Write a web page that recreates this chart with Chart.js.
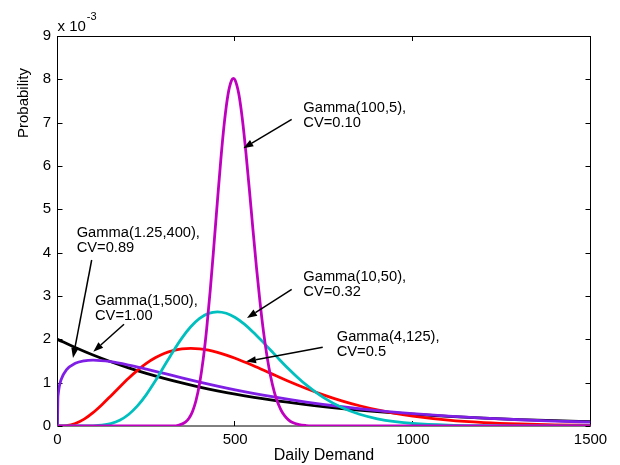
<!DOCTYPE html>
<html>
<head>
<meta charset="utf-8">
<script src="https://cdn.jsdelivr.net/npm/chart.js@4/dist/chart.umd.min.js"></script>
<style>
  html, body { margin: 0; padding: 0; background: #ffffff; }
  #wrap { width: 620px; height: 465px; }
</style>
</head>
<body>
<div id="wrap"><canvas id="c" width="620" height="465"></canvas></div>
<script>
// ---- Data (probability values in units of 10^-3) ----
const demandExp = [0,50,100,150,200,250,300,350,400,450,500,600,700,800,900,1000,1100,1200,1300,1400,1500];
const probGamma1_500 = [2.000,1.810,1.637,1.482,1.341,1.213,1.098,0.993,0.899,0.813,0.736,0.602,0.493,0.404,0.331,0.271,0.222,0.181,0.149,0.122,0.100];

const demandG125 = [0,1,2,5,10,25,50,75,100,150,200,250,300,350,400,450,500,600,700,800,900,1000,1100,1200,1300,1400,1500];
const probGamma125_400 = [0,0.615,0.730,0.911,1.069,1.295,1.447,1.505,1.519,1.483,1.407,1.313,1.213,1.112,1.015,0.922,0.836,0.681,0.551,0.444,0.356,0.285,0.227,0.181,0.144,0.114,0.090];

const demandG4 = [0,25,50,75,100,125,150,175,200,225,250,275,300,325,350,375,400,425,450,475,500,550,600,650,700,750,800,850,900,950,1000,1100,1200,1300,1400,1500];
const probGamma4_125 = [0,0.009,0.057,0.158,0.307,0.491,0.694,0.902,1.103,1.285,1.444,1.573,1.672,1.741,1.780,1.792,1.781,1.749,1.700,1.637,1.563,1.395,1.214,1.034,0.866,0.714,0.581,0.467,0.372,0.293,0.229,0.137,0.080,0.046,0.026,0.014];

const demandG10 = [0,50,100,125,150,175,200,225,250,275,300,325,350,375,400,425,450,475,500,525,550,575,600,625,650,675,700,750,800,850,900,950,1000,1100,1200,1300,1400,1500];
const probGamma10_50 = [0,0.000,0.004,0.017,0.054,0.131,0.265,0.463,0.725,1.037,1.377,1.716,2.028,2.289,2.482,2.598,2.635,2.601,2.503,2.355,2.171,1.965,1.748,1.531,1.321,1.125,0.947,0.648,0.426,0.271,0.167,0.100,0.058,0.019,0.006,0.002,0.000,0.000];

const demandG100 = [0,300,320,340,360,370,380,390,400,410,420,430,440,450,460,470,480,490,495,500,510,520,530,540,550,560,570,580,590,600,610,620,630,640,650,660,680,700,720,760,1500];
const probGamma100_5 = [0,0.000,0.002,0.017,0.087,0.177,0.335,0.594,0.986,1.538,2.261,3.146,4.145,5.186,6.184,7.035,7.658,7.980,8.020,7.980,7.671,7.098,6.332,5.452,4.538,3.656,2.854,2.161,1.589,1.135,0.789,0.534,0.352,0.227,0.142,0.087,0.031,0.010,0.003,0.000,0];

const xTickValues = [0, 500, 1000, 1500];
const xTickLabels = ['0', '500', '1000', '1500'];
const yTickValues = [0,1,2,3,4,5,6,7,8,9];
const yTickLabels = ['0','1','2','3','4','5','6','7','8','9'];
const xAxisTitle = 'Daily Demand';
const yAxisTitle = 'Probability';
const yExponentBase = 'x 10';
const yExponent = '-3';

// Annotation labels: [line1, line2], anchor (data units)
const labelLines = [
  ['Gamma(100,5),', 'CV=0.10'],
  ['Gamma(10,50),', 'CV=0.32'],
  ['Gamma(4,125),', 'CV=0.5'],
  ['Gamma(1.25,400),', 'CV=0.89'],
  ['Gamma(1,500),', 'CV=1.00']
];
const labelX = [691.7, 691.7, 785.8, 54.0, 105.5];
const labelY = [7.242, 3.341, 1.972, 4.355, 2.781];
// Arrows: from (start) to (tip), data units
const arrowStartX = [659.1, 659.1, 746.4, 96.2, 187.2];
const arrowStartY = [7.078, 3.155, 1.816, 3.831, 2.347];
const arrowTipX = [522.9, 533.3, 530.5, 43.6, 100.8];
const arrowTipY = [6.408, 2.492, 1.488, 1.569, 1.715];

const FONT = "'Liberation Sans', Arial, Helvetica, sans-serif";

function pts(xs, ys) { return xs.map((x, i) => ({ x: x, y: ys[i] })); }

const frameAndNotes = {
  id: 'frameAndNotes',
  beforeDatasetsDraw(chart) {
    const { ctx, chartArea: a, scales } = chart;
    ctx.save();
    ctx.strokeStyle = '#000';
    ctx.lineWidth = 1;
    ctx.beginPath();
    ctx.rect(Math.round(a.left) - 0.5, Math.round(a.top) + 0.5, Math.round(a.right - a.left), Math.round(a.bottom - a.top) - 0.5);
    ctx.stroke();
    ctx.beginPath();
    yTickValues.forEach(v => {
      const y = Math.round(scales.y.getPixelForValue(v)) + 0.5;
      ctx.moveTo(a.left, y); ctx.lineTo(a.left + 5, y);
      ctx.moveTo(a.right, y); ctx.lineTo(a.right - 5, y);
    });
    xTickValues.forEach(v => {
      const x = Math.round(scales.x.getPixelForValue(v)) - 0.5;
      ctx.moveTo(x, a.bottom); ctx.lineTo(x, a.bottom - 5);
      ctx.moveTo(x, a.top); ctx.lineTo(x, a.top + 5);
    });
    ctx.stroke();
    ctx.restore();
  },
  afterDatasetsDraw(chart) {
    const { ctx, chartArea: a, scales } = chart;
    const sx = scales.x, sy = scales.y;
    ctx.save();
    // arrows
    ctx.strokeStyle = '#000';
    ctx.fillStyle = '#000';
    ctx.lineWidth = 1.5;
    for (let i = 0; i < arrowStartX.length; i++) {
      const x0 = sx.getPixelForValue(arrowStartX[i]), y0 = sy.getPixelForValue(arrowStartY[i]);
      const x1 = sx.getPixelForValue(arrowTipX[i]), y1 = sy.getPixelForValue(arrowTipY[i]);
      const ang = Math.atan2(y1 - y0, x1 - x0);
      const L = 10, W = 3.6;
      const bx = x1 - L * Math.cos(ang), by = y1 - L * Math.sin(ang);
      ctx.beginPath();
      ctx.moveTo(x0, y0); ctx.lineTo(bx, by);
      ctx.stroke();
      ctx.beginPath();
      ctx.moveTo(x1, y1);
      ctx.lineTo(bx + W * Math.sin(ang), by - W * Math.cos(ang));
      ctx.lineTo(bx - W * Math.sin(ang), by + W * Math.cos(ang));
      ctx.closePath();
      ctx.fill();
    }
    // labels
    ctx.font = '14.7px ' + FONT;
    ctx.textAlign = 'left';
    ctx.textBaseline = 'alphabetic';
    for (let i = 0; i < labelLines.length; i++) {
      const x = sx.getPixelForValue(labelX[i]), y = sy.getPixelForValue(labelY[i]);
      labelLines[i].forEach((t, j) => ctx.fillText(t, x, y + j * 15));
    }
    // y axis title (rotated)
    ctx.save();
    ctx.translate(28, 103);
    ctx.rotate(-Math.PI / 2);
    ctx.font = '15px ' + FONT;
    ctx.textAlign = 'center';
    ctx.textBaseline = 'alphabetic';
    ctx.fillText(yAxisTitle, 0, 0);
    ctx.restore();
    // exponent
    ctx.font = '15px ' + FONT;
    ctx.textAlign = 'left';
    ctx.fillText(yExponentBase, a.left, 31);
    const w = ctx.measureText(yExponentBase).width;
    ctx.font = '11px ' + FONT;
    ctx.fillText(yExponent, a.left + w + 1, 20);
    ctx.restore();
  }
};

const common = { pointRadius: 0, borderWidth: 2.8, fill: false, cubicInterpolationMode: 'monotone' };

new Chart(document.getElementById('c'), {
  type: 'line',
  data: {
    datasets: [
      Object.assign({ label: 'Gamma(100,5)', data: pts(demandG100, probGamma100_5), borderColor: '#BF00BF', order: 0 }, common),
      Object.assign({ label: 'Gamma(10,50)', data: pts(demandG10, probGamma10_50), borderColor: '#00BFBF', order: 1 }, common),
      Object.assign({ label: 'Gamma(1.25,400)', data: pts(demandG125, probGamma125_400), borderColor: '#7F1FE6', order: 2 }, common),
      Object.assign({ label: 'Gamma(4,125)', data: pts(demandG4, probGamma4_125), borderColor: '#FF0000', order: 3 }, common),
      Object.assign({ label: 'Gamma(1,500)', data: pts(demandExp, probGamma1_500), borderColor: '#000000', order: 4 }, common)
    ]
  },
  options: {
    responsive: false,
    animation: false,
    devicePixelRatio: 1,
    layout: { padding: { left: 0, right: 29.5, top: 36, bottom: 0 } },
    plugins: { legend: { display: false }, tooltip: { enabled: false } },
    scales: {
      x: {
        type: 'linear', min: 0, max: 1500,
        afterBuildTicks: s => { s.ticks = xTickValues.map(v => ({ value: v })); },
        afterFit: s => { s.height = 39; },
        ticks: { color: '#000', font: { size: 15, family: FONT }, padding: 5, maxRotation: 0, autoSkip: false,
                 callback: v => xTickLabels[xTickValues.indexOf(v)] },
        grid: { display: false, drawTicks: false },
        border: { display: false },
        title: { display: true, text: xAxisTitle, color: '#000', font: { size: 16, family: FONT }, padding: { top: 0, bottom: 0 } }
      },
      y: {
        type: 'linear', min: 0, max: 9,
        afterBuildTicks: s => { s.ticks = yTickValues.map(v => ({ value: v })); },
        afterFit: s => { s.width = 57.5; },
        ticks: { color: '#000', font: { size: 15, family: FONT }, padding: 6.5, autoSkip: false,
                 callback: v => yTickLabels[yTickValues.indexOf(v)] },
        grid: { display: false, drawTicks: false },
        border: { display: false }
      }
    }
  },
  plugins: [frameAndNotes]
});
</script>
</body>
</html>
